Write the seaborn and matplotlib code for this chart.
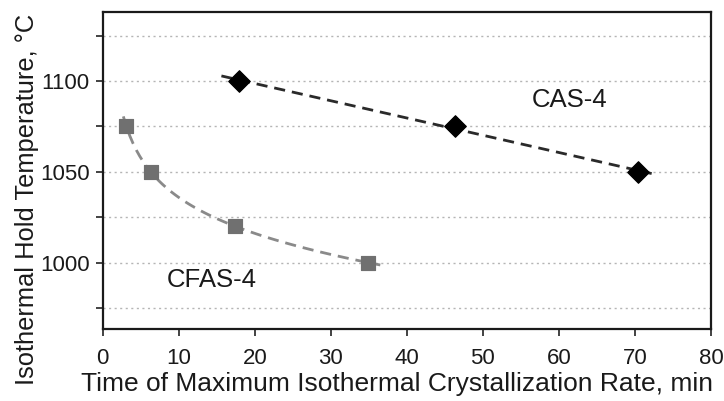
import numpy as np
import pandas as pd
import matplotlib
matplotlib.use('Agg')
import matplotlib.pyplot as plt
import seaborn as sns

# datos
cas_tiempo = [17.9, 46.3, 70.4]
cas_temp = [1100, 1075, 1050]
cfas_tiempo = [3.1, 6.3, 17.4, 34.9]
cfas_temp = [1075, 1050, 1020, 1000]

y_ticks = [975, 1000, 1025, 1050, 1075, 1100, 1125]
y_labels = ['', '1000', '', '1050', '', '1100', '']
x_ticks = [0, 10, 20, 30, 40, 50, 60, 70, 80]

sns.set_theme(style='white')
plt.rcParams['font.family'] = ['Liberation Sans', 'DejaVu Sans']

df_cas = pd.DataFrame({'t': cas_tiempo, 'T': cas_temp})
df_cfas = pd.DataFrame({'t': cfas_tiempo, 'T': cfas_temp})

fig, ax = plt.subplots(figsize=(7.24, 4.01), dpi=100)
fig.subplots_adjust(left=0.142, right=0.982, top=0.970, bottom=0.180)

# lineas de tendencia (ajuste de los puntos)
p_cas = np.polyfit(cas_tiempo, cas_temp, 1)
xs_cas = np.linspace(15.6, 72.2, 50)
ax.plot(xs_cas, np.polyval(p_cas, xs_cas), ls=(0, (4, 2.5)), color='#2a2a2a', lw=2, zorder=2)

p_cfas = np.polyfit(np.log(cfas_tiempo), cfas_temp, 3)
xs_cfas = np.linspace(2.7, 36.5, 80)
ax.plot(xs_cfas, np.polyval(p_cfas, np.log(xs_cfas)), ls=(0, (4, 2.5)), color='#8a8a8a', lw=2, zorder=2)

sns.scatterplot(data=df_cas, x='t', y='T', ax=ax, marker='D', s=120,
                color='black', edgecolor='black', zorder=3)
sns.scatterplot(data=df_cfas, x='t', y='T', ax=ax, marker='s', s=110,
                color='#707070', edgecolor='#707070', zorder=3)

ax.text(61.4, 1089.5, 'CAS-4', fontsize=18.5, ha='center', va='center', color='#1a1a1a')
ax.text(14.3, 990.5, 'CFAS-4', fontsize=18.5, ha='center', va='center', color='#1a1a1a')

ax.set_xlim(0, 80)
ax.set_ylim(963.5, 1138)
ax.set_xticks(x_ticks)
ax.set_yticks(y_ticks)
ax.set_yticklabels(y_labels)
ax.yaxis.grid(True, ls=(0, (1.5, 2.5)), color='#b5b5b5', lw=1)
ax.xaxis.grid(False)

ax.tick_params(axis='both', direction='out', length=5, width=1.2, colors='#222222',
               labelsize=16, labelcolor='#1a1a1a', bottom=True, left=True)
ax.tick_params(axis='x', pad=8.5)
ax.tick_params(axis='y', pad=4.5)
for s in ax.spines.values():
    s.set_color('#1a1a1a')
    s.set_linewidth(1.6)

ax.set_xlabel('Time of Maximum Isothermal Crystallization Rate, min', fontsize=19,
              color='#1a1a1a')
ax.set_ylabel('Isothermal Hold Temperature, °C', fontsize=18.4, color='#1a1a1a')
ax.xaxis.set_label_coords(0.484, -0.136)
ax.yaxis.set_label_coords(-0.105, 0.407)

fig.savefig('out.png', dpi=100)
